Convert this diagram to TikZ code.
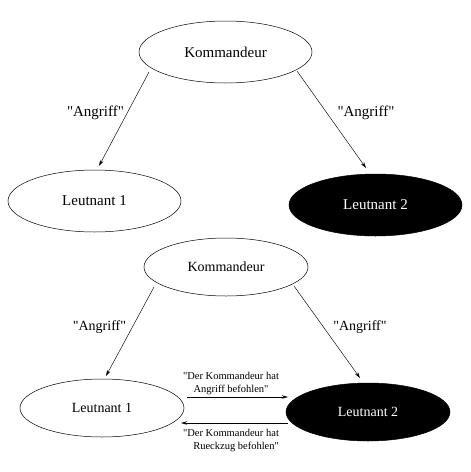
\documentclass[tikz,border=0pt]{standalone}
\usepackage{fontspec}
\setmainfont{Liberation Serif}
\newfontfamily\plainrm{Liberation Serif}
\usetikzlibrary{shapes.geometric,arrows.meta}
\begin{document}
\begin{tikzpicture}[x=1pt,y=-1pt,
  every node/.style={font=\plainrm},
  ell/.style={ellipse,draw,line width=0.5pt,inner sep=0pt},
  bigell/.style={ell,minimum width=173pt,minimum height=62pt,font=\plainrm\fontsize{15}{18}\selectfont},
  smallell/.style={ell,minimum width=164pt,minimum height=58pt,font=\plainrm\fontsize{14}{17}\selectfont},
  dark/.style={fill=black,text=white},
  arr/.style={line width=0.45pt,-{Stealth[length=6pt,width=3.5pt]}},
  harr/.style={line width=0.8pt,-{Stealth[length=6pt,width=3.5pt]}},
  lbl/.style={inner sep=0pt},
  smalllbl/.style={inner sep=0pt,font=\plainrm\fontsize{10.5}{13}\selectfont}]
\useasboundingbox (0,0) rectangle (471,472);
% top diagram
\node[bigell] (k1) at (225.5,52) {Kommandeur};
\node[bigell] (l1) at (94.5,201) {Leutnant 1};
\node[bigell,dark] (l2) at (375.5,205) {Leutnant 2};
\coordinate (a1s) at (149,72);
\coordinate (a1e) at (99,166);
\coordinate (a2s) at (297,71);
\coordinate (a2e) at (366,168);
\draw[arr] (a1s) -- (a1e);
\draw[arr] (a2s) -- (a2e);
\node[lbl,font=\plainrm\fontsize{15}{18}\selectfont] (t1) at (95.5,113) {"Angriff"};
\node[lbl,font=\plainrm\fontsize{15}{18}\selectfont] (t2) at (366,113) {"Angriff"};
% bottom diagram
\node[smallell] (k2) at (226,267) {Kommandeur};
\node[smallell] (m1) at (102,408) {Leutnant 1};
\node[smallell,dark] (m2) at (368,412) {Leutnant 2};
\coordinate (b1s) at (154,287);
\coordinate (b1e) at (106,376);
\coordinate (b2s) at (294,286);
\coordinate (b2e) at (360,378);
\draw[arr] (b1s) -- (b1e);
\draw[arr] (b2s) -- (b2e);
\node[lbl,font=\plainrm\fontsize{14}{17}\selectfont] (t3) at (99.5,327) {"Angriff"};
\node[lbl,font=\plainrm\fontsize{14}{17}\selectfont] (t4) at (360,327) {"Angriff"};
\coordinate (h1s) at (187,397);
\coordinate (h1e) at (288,397);
\coordinate (h2s) at (288,423);
\coordinate (h2e) at (181,423);
\draw[harr] (h1s) -- (h1e);
\draw[harr] (h2s) -- (h2e);
\node[smalllbl,align=center] (s1) at (231,383.5) {"Der Kommandeur hat\\Angriff befohlen"};
\node[smalllbl,align=right] (s2) at (231,440.5) {"Der Kommandeur hat\\Rueckzug befohlen"};
\end{tikzpicture}
\end{document}
